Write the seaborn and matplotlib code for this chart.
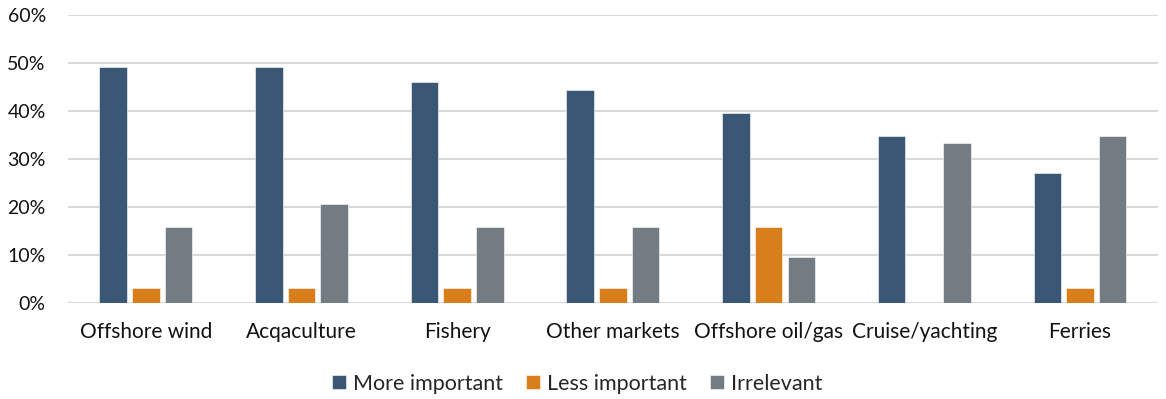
import matplotlib
matplotlib.use("Agg")
import matplotlib.pyplot as plt
import seaborn as sns
import pandas as pd
from matplotlib.ticker import PercentFormatter, MultipleLocator

categories = ["Offshore wind", "Acqaculture", "Fishery", "Other markets",
              "Offshore oil/gas", "Cruise/yachting", "Ferries"]
more_important = [49.2, 49.2, 46.0, 44.4, 39.7, 34.9, 27.0]
less_important = [3.2, 3.2, 3.2, 3.2, 15.9, 0.0, 3.2]
irrelevant = [15.9, 20.6, 15.9, 15.9, 9.5, 33.3, 34.9]
series_names = ["More important", "Less important", "Irrelevant"]
colors = ["#3A5775", "#D87E1A", "#737B83"]

rows = []
for name, vals in zip(series_names, [more_important, less_important, irrelevant]):
    for c, v in zip(categories, vals):
        rows.append({"Category": c, "Series": name, "Value": v})
df = pd.DataFrame(rows)

sns.set_theme(style="white")
plt.rcParams['font.family'] = ['Lato', 'DejaVu Sans']

fig = plt.figure(figsize=(11.66, 3.99), dpi=100)
ax = fig.add_axes([0.0583, 0.2406, 0.9347, 0.7214])

sns.barplot(data=df, x="Category", y="Value", hue="Series", order=categories,
            hue_order=series_names, palette=colors, saturation=1, width=0.63, gap=0.16,
            edgecolor="white", linewidth=0.4, ax=ax, zorder=3)

ax.set_ylim(0, 60)
ax.set_xlim(-0.5, len(categories) - 0.5)
ax.yaxis.set_major_locator(MultipleLocator(10))
ax.yaxis.set_major_formatter(PercentFormatter(decimals=0))
ax.grid(axis="y", color="#D9D9D9", linewidth=1.5, zorder=0)
ax.set_axisbelow(True)
for s in ["top", "right", "left", "bottom"]:
    ax.spines[s].set_visible(False)
ax.set_xlabel("")
ax.set_ylabel("")
ax.tick_params(axis="y", length=0, pad=16, labelsize=14, labelcolor="#111111")
ax.tick_params(axis="x", length=0, pad=14, labelsize=15, labelcolor="#111111")

handles, labels = ax.get_legend_handles_labels()
ax.legend_.remove()
fig.legend(handles, labels, loc="center", bbox_to_anchor=(0.495, 0.038), ncol=3,
           frameon=False, fontsize=15.5, handlelength=0.65, handleheight=0.65,
           handletextpad=0.3, columnspacing=1.1)

fig.savefig("out.png", dpi=100)
